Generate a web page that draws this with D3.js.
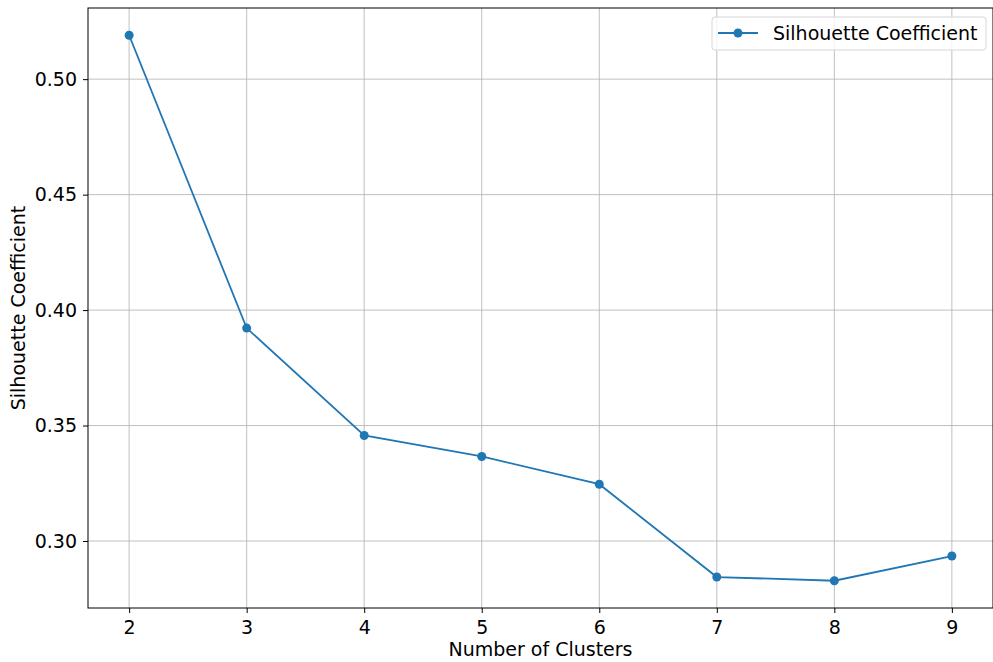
<!DOCTYPE html>
<html>
<head>
<meta charset="utf-8">
<script src="https://cdn.jsdelivr.net/npm/d3@7"></script>
<style>
  body { margin: 0; background: #fff; }
  svg { font-family: "DejaVu Sans", sans-serif; }
</style>
</head>
<body>
<script>
// silhouette score per cluster count
var w = 993, h = 662;
var clusters = [2, 3, 4, 5, 6, 7, 8, 9];
var silhouette = [0.519, 0.3922, 0.3457, 0.3366, 0.3246, 0.2844, 0.2828, 0.2935];
var yTicks = [0.30, 0.35, 0.40, 0.45, 0.50];
var seriesName = "Silhouette Coefficient";

var m = {left: 88, right: 993, top: 8, bottom: 608};
var color = "#1f77b4";
var fs = "19px";

// matplotlib style 5% margins
var xMin = d3.min(clusters), xMax = d3.max(clusters);
var yMin = d3.min(silhouette), yMax = d3.max(silhouette);
var xPad = (xMax - xMin) * 0.05, yPad = (yMax - yMin) * 0.05;

var x = d3.scaleLinear().domain([xMin - xPad, xMax + xPad]).range([m.left, m.right]);
var y = d3.scaleLinear().domain([yMin - yPad, yMax + yPad]).range([m.bottom, m.top]);

var svg = d3.select("body").append("svg")
  .attr("width", w)
  .attr("height", h);

// grid
svg.append("g").selectAll("line")
  .data(clusters).enter().append("line")
  .attr("x1", function(d){ return x(d); })
  .attr("x2", function(d){ return x(d); })
  .attr("y1", m.top).attr("y2", m.bottom)
  .attr("stroke", "#b0b0b0").attr("stroke-width", 0.8);
svg.append("g").selectAll("line")
  .data(yTicks).enter().append("line")
  .attr("x1", m.left).attr("x2", m.right)
  .attr("y1", function(d){ return y(d); })
  .attr("y2", function(d){ return y(d); })
  .attr("stroke", "#b0b0b0").attr("stroke-width", 0.8);

// axes
var xAxis = svg.append("g")
  .attr("transform", "translate(0," + m.bottom + ")")
  .call(d3.axisBottom(x).tickValues(clusters).tickFormat(d3.format("d")).tickSize(5).tickPadding(5));
var yAxis = svg.append("g")
  .attr("transform", "translate(" + m.left + ",0)")
  .call(d3.axisLeft(y).tickValues(yTicks).tickFormat(d3.format(".2f")).tickSize(5).tickPadding(6));
[xAxis, yAxis].forEach(function(a){
  a.select(".domain").remove();
  a.selectAll("text").attr("font-size", fs).attr("fill", "#000")
    .attr("font-family", "DejaVu Sans, sans-serif");
  a.selectAll("line").attr("stroke", "#000").attr("stroke-width", 1);
});
xAxis.selectAll("text").attr("dy", "0.85em");

// frame
svg.append("rect")
  .attr("x", m.left).attr("y", m.top)
  .attr("width", m.right - m.left).attr("height", m.bottom - m.top)
  .attr("fill", "none").attr("stroke", "#000").attr("stroke-width", 1);

// line + markers
var pts = clusters.map(function(c, i){ return {k: c, v: silhouette[i]}; });
svg.append("path")
  .datum(pts)
  .attr("fill", "none")
  .attr("stroke", color)
  .attr("stroke-width", 1.8)
  .attr("d", d3.line().x(function(d){ return x(d.k); }).y(function(d){ return y(d.v); }));
svg.selectAll("circle.pt")
  .data(pts).enter().append("circle")
  .attr("class", "pt")
  .attr("cx", function(d){ return x(d.k); })
  .attr("cy", function(d){ return y(d.v); })
  .attr("r", 4.5)
  .attr("fill", color);

// axis titles
svg.append("text")
  .attr("x", (m.left + m.right) / 2).attr("y", 656)
  .attr("text-anchor", "middle").attr("font-size", fs)
  .text("Number of Clusters");
svg.append("text")
  .attr("transform", "translate(25," + ((m.top + m.bottom) / 2) + ") rotate(-90)")
  .attr("text-anchor", "middle").attr("font-size", fs)
  .text("Silhouette Coefficient");

// legend
var lg = svg.append("g").attr("transform", "translate(712,17)");
lg.append("rect")
  .attr("width", 274).attr("height", 33).attr("rx", 3)
  .attr("fill", "#fff").attr("fill-opacity", 0.8)
  .attr("stroke", "#d6d6d6");
lg.append("line")
  .attr("x1", 6).attr("x2", 46).attr("y1", 16).attr("y2", 16)
  .attr("stroke", color).attr("stroke-width", 1.8);
lg.append("circle").attr("cx", 26).attr("cy", 16).attr("r", 4.5).attr("fill", color);
lg.append("text")
  .attr("x", 61).attr("y", 23).attr("font-size", fs)
  .text(seriesName);
</script>
</body>
</html>
